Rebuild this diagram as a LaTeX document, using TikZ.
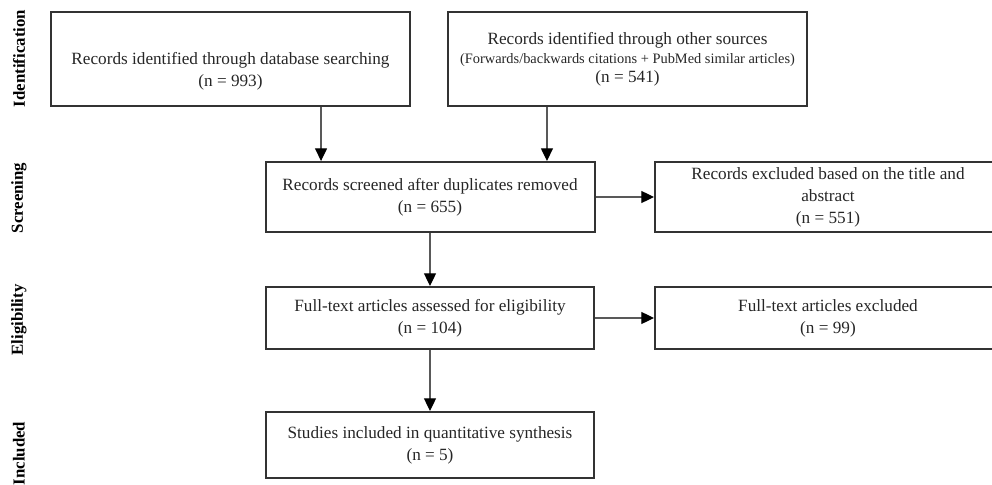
\documentclass[tikz,border=0pt]{standalone}
\usepackage{fontspec}
\setmainfont{Liberation Serif}
\usetikzlibrary{arrows.meta}

\begin{document}
\begin{tikzpicture}[x=0.75pt, y=-0.75pt,
            box/.style={draw=black!80, line width=1.5pt, align=center, inner sep=0pt, text=black!85, font=\fontsize{12.9}{16.5}\selectfont},
            phase/.style={rotate=90, inner sep=0pt, font=\fontsize{12.6}{15}\selectfont\bfseries},
            link/.style={draw=black!65, line width=0.9pt, -{Triangle[length=9.5pt, width=9pt, color=black]}}]
            \useasboundingbox (0,0) rectangle (992,485);
            \clip (0,0) rectangle (992,485);
            \node (idn) [phase] at (19,58.5) {Identification};
            \node (scr) [phase] at (19,198) {Screening};
            \node (elg) [phase] at (19,320) {Eligibility};
            \node (inc) [phase] at (19,453.5) {Included};
            \node (db) [box, minimum width=269.25pt, minimum height=70.5pt] at (230.5,59)
                {\strut\\Records identified through database searching\\(n = 993)};
            \node (other) [box, minimum width=269.25pt, minimum height=70.5pt] at (627.5,59)
                {Records identified through other sources\\[-2.2pt]{\fontsize{10.8}{13}\selectfont (Forwards/backwards citations + PubMed similar articles)}\\[-2.2pt](n = 541)};
            \node (screen) [box, minimum width=246.75pt, minimum height=52.5pt] at (430,197)
                {Records screened after duplicates removed\\(n = 655)};
            \node (exclA) [box, minimum width=259.5pt, minimum height=52.5pt] at (828,197)
                {Records excluded based on the title and\\abstract\\(n = 551)};
            \node (elig) [box, minimum width=246pt, minimum height=46.5pt] at (430,318)
                {Full-text articles assessed for eligibility\\(n = 104)};
            \node (exclB) [box, minimum width=259.5pt, minimum height=46.5pt] at (828,318)
                {Full-text articles excluded\\(n = 99)};
            \node (incl) [box, minimum width=246pt, minimum height=49.5pt] at (430,445)
                {Studies included in quantitative synthesis\\(n = 5)};
            \draw[link] ([xshift=67.9pt]db.south) -- ([xshift=67.9pt]db.south |- screen.north);
            \draw[link] ([xshift=-60.4pt]other.south) -- ([xshift=-60.4pt]other.south |- screen.north);
            \draw[link] (screen.east) -- (exclA.west);
            \draw[link] (screen.south) -- (elig.north);
            \draw[link] (elig.east) -- (exclB.west);
            \draw[link] (elig.south) -- (incl.north);
        \end{tikzpicture}
\end{document}
